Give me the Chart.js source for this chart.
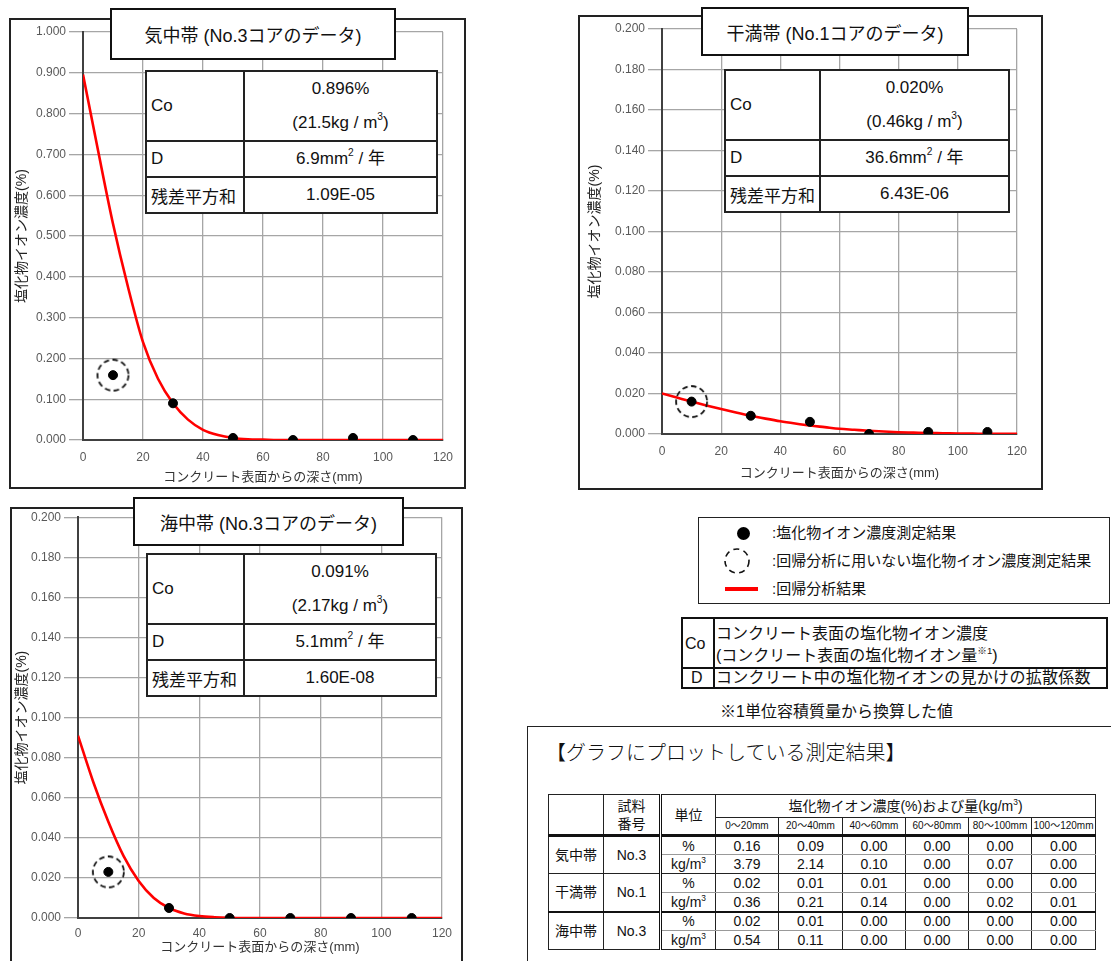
<!DOCTYPE html>
<html lang="ja">
<head>
<meta charset="utf-8">
<script src="https://cdn.jsdelivr.net/npm/chart.js@4.4.1/dist/chart.umd.min.js"></script>
<style>
    body { margin: 0; width: 1111px; height: 961px; overflow: hidden; background: #fff; position: relative;
        font-family: "Liberation Sans", "Noto Sans CJK JP", sans-serif; color: #111; }
    .box { position: absolute; box-sizing: border-box; }
    .frame { position: absolute; box-sizing: border-box; border: 2px solid #222; pointer-events: none; }
    .ttl { position: absolute; box-sizing: border-box; border: 2px solid #111; background: #fff; font-size: 18px;
        display: flex; align-items: center; justify-content: center; }
    .info { position: absolute; border-collapse: collapse; table-layout: fixed; background: #fff; font-size: 17px; }
    .info td { border: 2px solid #222; padding: 0; }
    .info td.k { text-align: left; padding-left: 4px; }
    .info td.v { text-align: center; line-height: 34px; }
    sup { font-size: 0.6em; line-height: 0; vertical-align: 0.75em; }
    .data { position: absolute; left: 548px; top: 794px; border-collapse: collapse; table-layout: fixed; font-size: 14px; }
    .data td { border: 1px solid #222; text-align: center; padding: 0; white-space: nowrap; line-height: 16px; }
    .data td.dbl { border-left: 3px double #111; }
    .data tr.hd2 td, .data td.hdb { border-bottom: 3px solid #111; }
    .data td.pct { border-bottom: 1px solid #999; }
    .data tr.gtop td { border-top: 2px solid #111; }
    .rng { font-size: 10px; }
    .lg { position: absolute; font-size: 15px; line-height: 18px; white-space: nowrap; }
</style>
</head>
<body>

<canvas id="kichu" class="box" width="457" height="471" style="left:9px;top:18px"></canvas>
<div class="frame" style="left:9px;top:18px;width:457px;height:471px"></div>
<div class="ttl" style="left:110px;top:8px;width:286px;height:52px">気中帯 (No.3コアのデータ)</div>
<table class="info" style="left:145px;top:70px;width:293px">
    <colgroup><col style="width:98px"><col></colgroup>
    <tr style="height:68px"><td class="k">Co</td><td class="v">0.896%<br>(21.5kg / m<sup>3</sup>)</td></tr>
    <tr style="height:35px"><td class="k">D</td><td class="v">6.9mm<sup>2</sup> / 年</td></tr>
    <tr style="height:34px"><td class="k">残差平方和</td><td class="v">1.09E-05</td></tr>
</table>

<canvas id="kanman" class="box" width="465" height="475" style="left:578px;top:15px"></canvas>
<div class="frame" style="left:578px;top:15px;width:465px;height:475px"></div>
<div class="ttl" style="left:701px;top:7px;width:268px;height:49px">干満帯 (No.1コアのデータ)</div>
<table class="info" style="left:724px;top:69px;width:286px">
    <colgroup><col style="width:95px"><col></colgroup>
    <tr style="height:68px"><td class="k">Co</td><td class="v">0.020%<br>(0.46kg / m<sup>3</sup>)</td></tr>
    <tr style="height:34px"><td class="k">D</td><td class="v">36.6mm<sup>2</sup> / 年</td></tr>
    <tr style="height:33px"><td class="k">残差平方和</td><td class="v">6.43E-06</td></tr>
</table>

<canvas id="kaichu" class="box" width="453" height="454" style="left:10px;top:507px"></canvas>
<div class="frame" style="left:10px;top:507px;width:453px;height:480px"></div>
<div class="ttl" style="left:133px;top:497px;width:271px;height:49px">海中帯 (No.3コアのデータ)</div>
<table class="info" style="left:146px;top:553px;width:291px">
    <colgroup><col style="width:97px"><col></colgroup>
    <tr style="height:69px"><td class="k">Co</td><td class="v">0.091%<br>(2.17kg / m<sup>3</sup>)</td></tr>
    <tr style="height:34px"><td class="k">D</td><td class="v">5.1mm<sup>2</sup> / 年</td></tr>
    <tr style="height:33px"><td class="k">残差平方和</td><td class="v">1.60E-08</td></tr>
</table>

<!-- legend -->
<div class="box" style="left:698px;top:517px;width:412px;height:87px;border:1.5px solid #222"></div>
<div class="box" style="left:737px;top:527px;width:13px;height:13px;border-radius:50%;background:#000"></div>
<svg class="box" style="left:723px;top:547px" width="28" height="28">
    <circle cx="14" cy="14" r="12" fill="none" stroke="#111" stroke-width="1.6" stroke-dasharray="6 4.5"/>
</svg>
<div class="box" style="left:725px;top:587px;width:33px;height:4px;background:#ff0000"></div>
<div class="lg" style="left:772px;top:524px">:塩化物イオン濃度測定結果</div>
<div class="lg" style="left:772px;top:552px">:回帰分析に用いない塩化物イオン濃度測定結果</div>
<div class="lg" style="left:772px;top:580px">:回帰分析結果</div>

<!-- definitions -->
<div class="box" style="left:681px;top:617px;width:427px;height:72px;border:2px solid #111"></div>
<div class="box" style="left:713px;top:617px;width:2px;height:72px;background:#111"></div>
<div class="box" style="left:681px;top:667px;width:427px;height:2px;background:#111"></div>
<div class="lg" style="left:685px;top:635px;font-size:16px">Co</div>
<div class="lg" style="left:691px;top:669px;font-size:16px">D</div>
<div class="lg" style="left:716px;top:625px;font-size:16px">コンクリート表面の塩化物イオン濃度</div>
<div class="lg" style="left:716px;top:647px;font-size:16px">(コンクリート表面の塩化物イオン量<sup>※1</sup>)</div>
<div class="lg" style="left:716px;top:669px;font-size:16px;letter-spacing:0.3px">コンクリート中の塩化物イオンの見かけの拡散係数</div>
<div class="lg" style="left:720px;top:703px;font-size:16px">※1単位容積質量から換算した値</div>

<!-- measured results panel -->
<div class="box" style="left:527px;top:726px;width:620px;height:260px;border:1.5px solid #222"></div>
<div class="lg" style="left:546px;top:741px;font-size:20px;line-height:24px;font-weight:300">【グラフにプロットしている測定結果】</div>
<table class="data" id="results"></table>

<script>
// depth of each measured slice (mm)
const depths = [10, 30, 50, 70, 90, 110]
const kichuValues = [0.159, 0.090, 0.005, 0.000, 0.005, 0.000]
const kanmanValues = [0.016, 0.009, 0.006, 0.000, 0.001, 0.001]
const kaichuValues = [0.023, 0.005, 0.000, 0.000, 0.000, 0.000]

// regression curves, every 5 mm
const fitDepths = [0, 5, 10, 15, 20, 25, 30, 35, 40, 45, 50, 55, 60, 65, 70, 75, 80, 85, 90, 95, 100, 105, 110, 115, 120]
const kichuFit = [0.896, 0.71, 0.53, 0.375, 0.24, 0.15, 0.09, 0.05, 0.025, 0.012, 0.005, 0.002, 0.001, 0, 0, 0, 0, 0, 0, 0, 0, 0, 0, 0, 0]
const kanmanFit = [0.020, 0.018, 0.016, 0.0141, 0.0123, 0.0106, 0.0090, 0.0076, 0.0063, 0.0052, 0.0042, 0.0034, 0.0026, 0.0021, 0.0016, 0.0012, 0.0009, 0.0007, 0.0005, 0.0004, 0.00025, 0.0002, 0.0001, 0.0001, 0.00005]
const kaichuFit = [0.091, 0.068, 0.048, 0.031, 0.0185, 0.010, 0.005, 0.0023, 0.001, 0.0004, 0.0001, 0, 0, 0, 0, 0, 0, 0, 0, 0, 0, 0, 0, 0, 0]

// table of measured results
const zones = ['気中帯', '干満帯', '海中帯']
const samples = ['No.3', 'No.1', 'No.3']
const ranges = ['0～20mm', '20～40mm', '40～60mm', '60～80mm', '80～100mm', '100～120mm']
const kichuPct = [0.16, 0.09, 0.00, 0.00, 0.00, 0.00]
const kichuKg = [3.79, 2.14, 0.10, 0.00, 0.07, 0.00]
const kanmanPct = [0.02, 0.01, 0.01, 0.00, 0.00, 0.00]
const kanmanKg = [0.36, 0.21, 0.14, 0.00, 0.02, 0.01]
const kaichuPct = [0.02, 0.01, 0.00, 0.00, 0.00, 0.00]
const kaichuKg = [0.54, 0.11, 0.00, 0.00, 0.00, 0.00]

const tickFont = { family: '"Liberation Sans", Arial, sans-serif', size: 12 }
const jpFont = { family: '"Liberation Sans", "Noto Sans CJK JP", sans-serif', size: 13 }
const yTitleFont = { family: '"Liberation Sans", "Noto Sans CJK JP", sans-serif', size: 14 }

function dashedRing(r) {
    const c = document.createElement('canvas')
    const s = Math.ceil(r * 2 + 4)
    c.width = s
    c.height = s
    const g = c.getContext('2d')
    g.setLineDash([5.5, 3.5])
    g.lineWidth = 1.8
    g.strokeStyle = '#111'
    g.beginPath()
    g.arc(s / 2, s / 2, r, 0, Math.PI * 2)
    g.stroke()
    return c
}

function createChart(id, values, fit, o) {
    new Chart(document.getElementById(id).getContext('2d'), {
        type: 'scatter',
        data: {
            datasets: [
                {
                    data: depths.map((d, i) => ({ x: d, y: values[i] })),
                    backgroundColor: '#000',
                    borderColor: '#000',
                    pointRadius: 4.5
                },
                {
                    data: [{ x: depths[0], y: values[0] }],
                    pointStyle: dashedRing(15.5)
                },
                {
                    data: fitDepths.map((d, i) => ({ x: d, y: fit[i] })),
                    showLine: true,
                    borderColor: '#ff0000',
                    borderWidth: 2.6,
                    pointRadius: 0,
                    cubicInterpolationMode: 'monotone'
                }
            ]
        },
        options: {
            responsive: false,
            animation: false,
            layout: { padding: o.padding },
            plugins: { legend: { display: false }, tooltip: { enabled: false } },
            scales: {
                x: {
                    type: 'linear', min: 0, max: 120,
                    ticks: { stepSize: 20, padding: o.xTickPad, color: '#595959', font: tickFont },
                    grid: { color: '#a6a6a6', lineWidth: 1.3, drawTicks: false },
                    border: { color: '#404040', width: 2 },
                    title: {
                        display: true, text: 'コンクリート表面からの深さ(mm)', color: '#333', font: jpFont,
                        padding: { top: 0, bottom: o.xTitlePad }
                    },
                    afterFit: s => { s.height = o.xHeight }
                },
                y: {
                    min: 0, max: o.yMax,
                    ticks: { stepSize: o.yStep, padding: 3, color: '#595959', font: tickFont, callback: v => v.toFixed(3) },
                    grid: { color: '#a6a6a6', lineWidth: 1.3, tickLength: 14 },
                    border: { color: '#404040', width: 2 },
                    title: {
                        display: true, text: '塩化物イオン濃度(%)', color: '#222', font: yTitleFont,
                        padding: { top: o.yTitlePad, bottom: 0 }
                    },
                    afterFit: s => { s.width = o.yWidth }
                }
            }
        }
    })
}

createChart('kichu', kichuValues, kichuFit, {
    yMax: 1, yStep: 0.1, yWidth: 74, xHeight: 49,
    padding: { top: 14, right: 23, left: 0, bottom: 0 },
    yTitlePad: 5, xTickPad: 10, xTitlePad: 4
})
createChart('kanman', kanmanValues, kanmanFit, {
    yMax: 0.2, yStep: 0.02, yWidth: 84, xHeight: 56,
    padding: { top: 14, right: 26, left: 0, bottom: 0 },
    yTitlePad: 9, xTickPad: 10, xTitlePad: 9
})
createChart('kaichu', kaichuValues, kaichuFit, {
    yMax: 0.2, yStep: 0.02, yWidth: 68, xHeight: 43,
    padding: { top: 9, right: 21, left: 0, bottom: 0 },
    yTitlePad: 4, xTickPad: 8, xTitlePad: 6
})

// measured results table
function buildTable() {
    const pct = [kichuPct, kanmanPct, kaichuPct]
    const kg = [kichuKg, kanmanKg, kaichuKg]
    const widths = [55, 57, 55, 63, 64, 63, 63, 63, 64]
    let html = '<colgroup>' + widths.map(w => `<col style="width:${w}px">`).join('') + '</colgroup>'
    html += '<tr style="height:23px"><td rowspan="2" class="hdb"></td>' +
        '<td rowspan="2" class="hdb" style="line-height:18px">試料<br>番号</td>' +
        '<td rowspan="2" class="hdb dbl">単位</td>' +
        '<td colspan="6">塩化物イオン濃度(%)および量(kg/m<sup>3</sup>)</td></tr>'
    html += '<tr class="hd2" style="height:18px">' + ranges.map(r => `<td class="rng">${r}</td>`).join('') + '</tr>'
    zones.forEach((z, i) => {
        const top = i === 2 ? ' class="gtop"' : ''
        html += `<tr${top} style="height:19px"><td rowspan="2">${z}</td><td rowspan="2">${samples[i]}</td>` +
            '<td class="dbl pct">%</td>' + pct[i].map(v => `<td class="pct">${v.toFixed(2)}</td>`).join('') + '</tr>'
        html += '<tr style="height:19px"><td class="dbl">kg/m<sup>3</sup></td>' +
            kg[i].map(v => `<td>${v.toFixed(2)}</td>`).join('') + '</tr>'
    })
    document.getElementById('results').innerHTML = html
}

buildTable()
</script>
</body>
</html>
